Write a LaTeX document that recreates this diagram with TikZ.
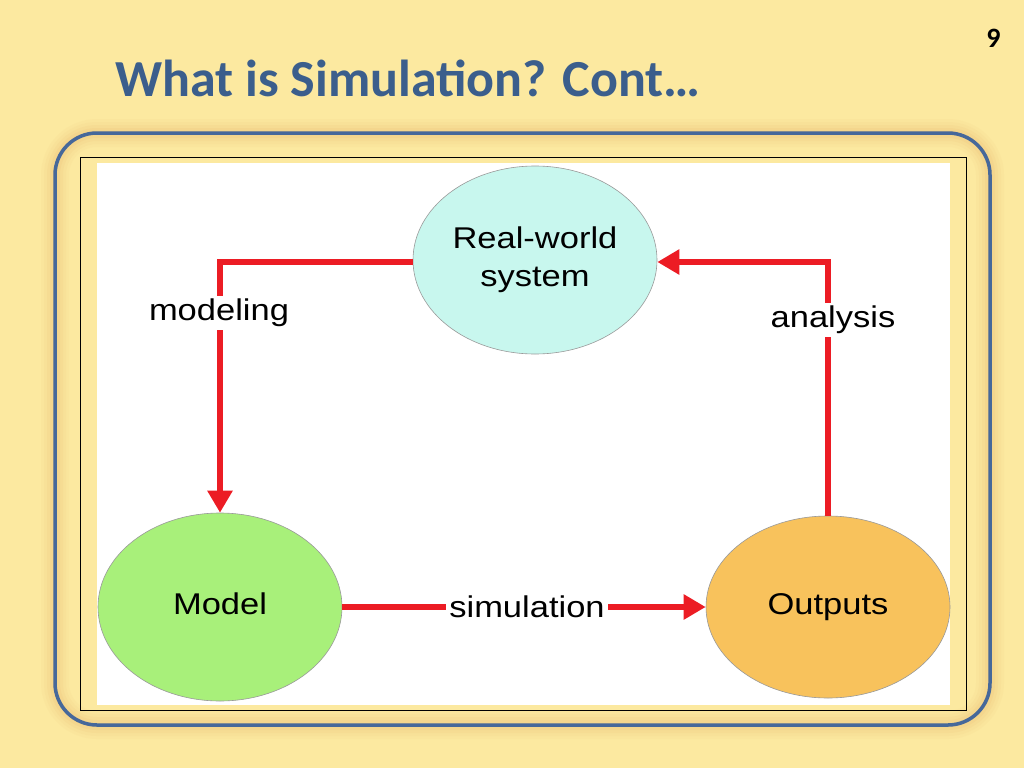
\documentclass[tikz,border=0pt]{standalone}
\usepackage{fontspec}
\setmainfont{Liberation Sans}
\newfontfamily\titlefont{Carlito}
\usetikzlibrary{arrows.meta,shapes.geometric}
\definecolor{bg}{HTML}{FCE9A0}
\definecolor{frameblue}{HTML}{46689A}
\definecolor{titleblue}{HTML}{3B5E8C}
\definecolor{arrowred}{HTML}{EC1C24}
\definecolor{rwfill}{HTML}{C8F7EE}
\definecolor{modfill}{HTML}{A8F07A}
\definecolor{outfill}{HTML}{F8C25C}
\definecolor{glow}{HTML}{E9B56A}
\begin{document}
\begin{tikzpicture}[x=1pt,y=-1pt,
  blob/.style={ellipse,draw=black!40,line width=0.6pt,minimum width=244pt,minimum height=188pt,font=\fontsize{30}{38}\selectfont\addfontfeatures{FakeStretch=1.15},align=center},
  flow/.style={draw=arrowred,line width=6pt,-{Triangle[length=22pt,width=24pt]}},
  lbl/.style={fill=white,inner sep=3pt,font=\fontsize{30}{36}\selectfont\addfontfeatures{FakeStretch=1.15}}]
\fill[bg] (0,0) rectangle (1024,768);
\useasboundingbox (0,0) rectangle (1024,768);
% glow
\foreach \i/\o in {14/0.06,11/0.08,8/0.10,5/0.14,2/0.2}{
  \draw[glow,opacity=\o,line width=\i pt*2,rounded corners=42pt] (55,133) rectangle (990,725);}
\draw[frameblue,line width=3.5pt,rounded corners=42pt] (55,133) rectangle (990,725);
\draw[black,line width=0.8pt] (80,157) rectangle (966,710);
\fill[white] (97,163) rectangle (950,705);
\node[font=\titlefont\bfseries\fontsize{52}{58}\selectfont,text=titleblue,anchor=west] (title) at (112,78) {What is Simulation? Cont…};
\node[font=\titlefont\bfseries\fontsize{28}{32}\selectfont,anchor=east] (pg) at (1004,38) {9};
\node[blob,fill=rwfill] (rw) at (535,260) {Real-world\\system};
\node[blob,fill=modfill] (mod) at (220,607) {Model\vphantom{p}};
\node[blob,fill=outfill,minimum height=182pt] (out) at (828,607) {Outputs};
\coordinate (c1) at (220,262);
\coordinate (c2) at (828,262);
\draw[flow] (rw.west|-c1) -- (c1) -- (mod.north);
\draw[flow] (out.north) -- (c2) -- (rw.east|-c2);
\draw[flow] (mod.east) -- (out.west);
\node[lbl] (lm) at (219,313) {modeling};
\node[lbl] (la) at (833,320) {analysis};
\node[lbl] (ls) at (527,607) {simulation};
\end{tikzpicture}
\end{document}
